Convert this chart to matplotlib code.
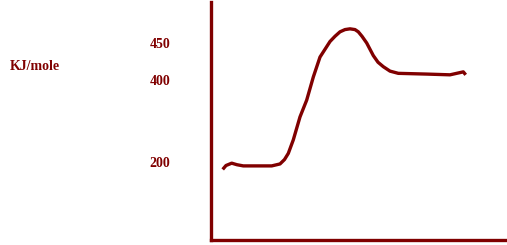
import numpy as np
import matplotlib.pyplot as plt

# hand drawn energy profile, reaction coordinate (no ticks) vs energy in KJ/mole
reaction_coord = [11.7, 15.0, 20.7, 26.0, 32.3, 60.7, 69.0, 73.5, 77.3, 82.3,
                  89.0, 95.7, 102.3, 109.0, 119.0, 124.0, 129.0, 134.0, 139.0,
                  144.0, 147.3, 151.0, 155.7, 162.3, 167.0, 172.3, 179.0, 187.3,
                  215.7, 239.0, 252.3, 254.7]
energy = [181, 191, 197, 193, 190, 190, 195, 206, 221, 254,
          310, 351, 404, 431, 452, 459, 465, 468, 469,
          468, 465, 459, 450, 433, 424, 418, 412, 409,
          408, 407, 411, 407]
tick_values = [200, 400, 450]
tick_labels = ['200', '400', '450']

# the axis in the drawing is not linear, so map through the labelled points
e_anchor = [0, 200, 400, 450, 505]
p_anchor = [0, 78, 160, 197, 238]


def forward(e):
    return np.interp(e, e_anchor, p_anchor)


def inverse(p):
    return np.interp(p, p_anchor, e_anchor)


maroon = '#800000'

fig = plt.figure(figsize=(5.07, 2.45), dpi=100)
ax = fig.add_axes([211 / 507, 5 / 245, 296 / 507, 238 / 245])

ax.plot(reaction_coord, energy, color=maroon, linewidth=2.4,
        solid_joinstyle='round', solid_capstyle='butt')

ax.set_yscale('function', functions=(forward, inverse))
ax.set_ylim(0, 505)
ax.set_xlim(0, 296)

ax.set_yticks(tick_values)
ax.set_yticklabels(tick_labels, fontfamily='Liberation Serif', fontweight='bold',
                   fontsize=10, color=maroon)
ax.tick_params(axis='y', length=0, pad=29.5)
ax.minorticks_off()
ax.set_xticks([])

for side in ['top', 'right']:
    ax.spines[side].set_visible(False)
for side in ['left', 'bottom']:
    ax.spines[side].set_color(maroon)
    ax.spines[side].set_linewidth(2.4)

fig.text(10 / 507, 1 - 66 / 245, 'KJ/mole', fontfamily='Liberation Serif',
         fontweight='bold', fontsize=10, color=maroon, va='center', ha='left')

fig.savefig('out.png', dpi=100)
